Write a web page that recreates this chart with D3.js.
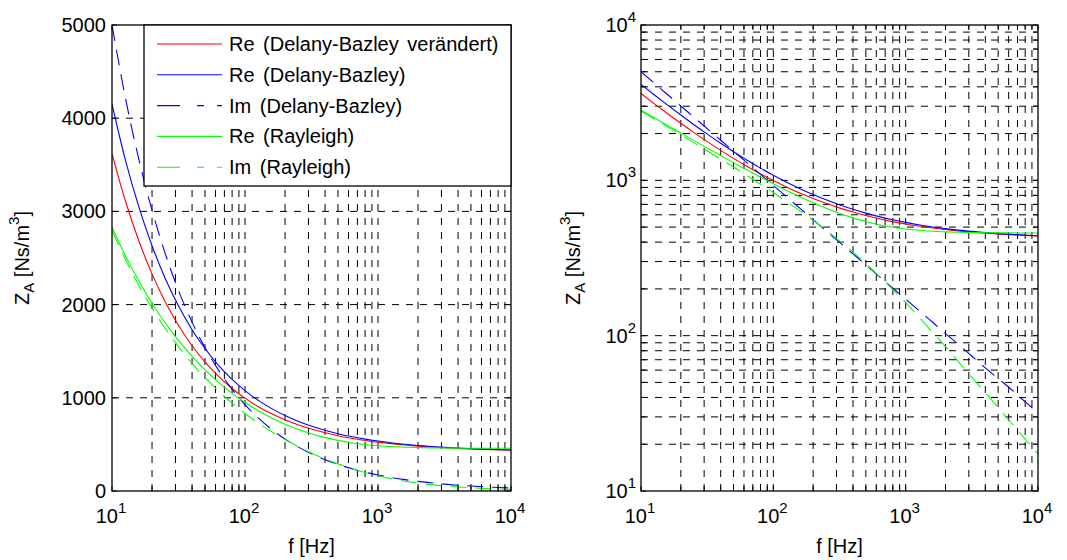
<!DOCTYPE html>
<html>
<head>
<meta charset="utf-8">
<script src="https://cdn.jsdelivr.net/npm/d3@7"></script>
<style>
  body { margin: 0; background: #fff; }
  text { font-family: Arial, "Liberation Sans", sans-serif; fill: #000; }
</style>
</head>
<body>
<div id="chart"></div>
<script>
const width = 1067;
const height = 560;

// frequencies (Hz) and impedance values (Ns/m^3)
const freq = [10, 12.5, 16, 20, 25, 31.5, 40, 50, 63, 80, 100, 125, 160, 200, 250, 315, 400, 500, 630, 800,
    1000, 1250, 1600, 2000, 2500, 3150, 4000, 5000, 6300, 8000, 10000];
const reDBmod = [3620, 3130, 2675, 2330, 2037, 1781, 1559, 1385, 1232, 1100, 996, 907, 825, 764, 711, 665, 625, 593, 566, 542,
    524, 508, 493, 482, 472, 464, 457, 451, 446, 442, 439];
const reDB = [4150, 3572, 3038, 2632, 2289, 1990, 1731, 1529, 1351, 1198, 1077, 975, 881, 810, 749, 697, 651, 615, 584, 557,
    536, 518, 501, 489, 478, 469, 461, 454, 449, 444, 440];
const imDB = [5000, 4246, 3544, 3011, 2557, 2158, 1812, 1539, 1300, 1091, 927, 787, 657, 558, 474, 400, 336, 285, 241, 202,
    172, 146, 122, 103, 88, 74, 62, 53, 45, 37.5, 32];
const reRay = [2831, 2536, 2247, 2015, 1808, 1618, 1444, 1300, 1168, 1048, 950, 864, 781, 717, 662, 614, 573, 543, 518, 499,
    486, 477, 470, 466, 463, 461, 460, 459, 459, 458, 458];
const imRay = [2794, 2495, 2200, 1962, 1749, 1552, 1369, 1217, 1075, 943, 832, 732, 633, 552, 478, 409, 345, 291, 242, 198,
    163, 133, 105, 85, 68, 54, 43, 34.4, 27.4, 21.6, 17.3];

const legendNames = ['Re (Delany-Bazley verändert)', 'Re (Delany-Bazley)', 'Im (Delany-Bazley)', 'Re (Rayleigh)', 'Im (Rayleigh)'];
const linearYTicks = [0, 1000, 2000, 3000, 4000, 5000];
const decades = [10, 100, 1000, 10000];

const series = [
    { name: legendNames[0], values: reDBmod, color: '#ff0000', dash: null },
    { name: legendNames[1], values: reDB, color: '#0000ff', dash: null },
    { name: legendNames[2], values: imDB, color: '#0000ff', dash: '16,9' },
    { name: legendNames[3], values: reRay, color: '#00ff00', dash: null },
    { name: legendNames[4], values: imRay, color: '#00ff00', dash: '16,9' }
];

const svg = d3.select('#chart')
    .append('svg')
    .attr('width', width)
    .attr('height', height);

const yTop = 25, yBottom = 491, tickLen = 5;
const gridDash = '7,7';

const panels = [
    { id: 'lin', left: 112, right: 511, y: d3.scaleLinear().domain([0, 5000]).range([yBottom, yTop]), logY: false, labelX: 29 },
    { id: 'log', left: 641, right: 1038, y: d3.scaleLog().domain([10, 10000]).range([yBottom, yTop]), logY: true, labelX: 580 }
];

function powerLabel(sel, exp) {
    sel.append('tspan').text('10');
    sel.append('tspan').attr('dy', -10).attr('font-size', 15).text(exp);
}

panels.forEach(p => {
    const x = d3.scaleLog().domain([10, 10000]).range([p.left, p.right]);
    const y = p.y;
    const g = svg.append('g');
    const xTicks = x.ticks();
    const yTicks = p.logY ? y.ticks() : linearYTicks;

    g.append('clipPath').attr('id', 'clip-' + p.id)
        .append('rect')
        .attr('x', p.left).attr('y', yTop)
        .attr('width', p.right - p.left).attr('height', yBottom - yTop);

    // grid
    g.selectAll('.vgrid')
        .data(xTicks.filter(t => t > 10 && t < 10000))
        .join('line')
        .attr('x1', d => x(d)).attr('x2', d => x(d))
        .attr('y1', yBottom).attr('y2', yTop)
        .attr('stroke', '#000').attr('stroke-width', 1)
        .attr('stroke-dasharray', gridDash);

    g.selectAll('.hgrid')
        .data(yTicks.filter(t => t > y.domain()[0] && t < y.domain()[1]))
        .join('line')
        .attr('x1', p.left).attr('x2', p.right)
        .attr('y1', d => y(d)).attr('y2', d => y(d))
        .attr('stroke', '#000').attr('stroke-width', 1)
        .attr('stroke-dasharray', gridDash);

    // data
    const line = d3.line()
        .x((d, i) => x(freq[i]))
        .y(d => y(d))
        .curve(d3.curveMonotoneX);

    g.append('g').attr('clip-path', `url(#clip-${p.id})`)
        .selectAll('path')
        .data(series)
        .join('path')
        .attr('d', d => line(d.values))
        .attr('fill', 'none')
        .attr('stroke', d => d.color)
        .attr('stroke-width', 1.1)
        .attr('stroke-dasharray', d => d.dash);

    // ticks on all four sides
    const tk = g.append('g').attr('stroke', '#000').attr('stroke-width', 1);
    xTicks.forEach(t => {
        tk.append('line').attr('x1', x(t)).attr('x2', x(t)).attr('y1', yBottom).attr('y2', yBottom - tickLen);
        tk.append('line').attr('x1', x(t)).attr('x2', x(t)).attr('y1', yTop).attr('y2', yTop + tickLen);
    });
    yTicks.forEach(t => {
        tk.append('line').attr('x1', p.left).attr('x2', p.left + tickLen).attr('y1', y(t)).attr('y2', y(t));
        tk.append('line').attr('x1', p.right).attr('x2', p.right - tickLen).attr('y1', y(t)).attr('y2', y(t));
    });

    // frame
    g.append('rect')
        .attr('x', p.left).attr('y', yTop)
        .attr('width', p.right - p.left).attr('height', yBottom - yTop)
        .attr('fill', 'none').attr('stroke', '#000').attr('stroke-width', 1.3);

    // x tick labels
    decades.forEach(t => {
        g.append('text')
            .attr('x', x(t) - 1).attr('y', 523)
            .attr('text-anchor', 'middle')
            .attr('font-size', 20)
            .call(powerLabel, Math.round(Math.log10(t)));
    });

    // y tick labels
    if (p.logY) {
        decades.forEach(t => {
            g.append('text')
                .attr('x', p.left - 5).attr('y', y(t) + 7)
                .attr('text-anchor', 'end')
                .attr('font-size', 20)
                .call(powerLabel, Math.round(Math.log10(t)));
        });
    } else {
        linearYTicks.forEach(t => {
            g.append('text')
                .attr('x', p.left - 6).attr('y', y(t) + 7)
                .attr('text-anchor', 'end')
                .attr('font-size', 20)
                .text(t);
        });
    }

    // axis labels
    g.append('text')
        .attr('x', (p.left + p.right) / 2).attr('y', 553)
        .attr('text-anchor', 'middle')
        .attr('font-size', 20)
        .text('f [Hz]');

    const yl = g.append('text')
        .attr('transform', `translate(${p.labelX},${(yTop + yBottom) / 2}) rotate(-90)`)
        .attr('text-anchor', 'middle')
        .attr('font-size', 20);
    yl.append('tspan').text('Z');
    yl.append('tspan').attr('dy', 5).attr('font-size', 15).text('A');
    yl.append('tspan').attr('dy', -5).text(' [Ns/m');
    yl.append('tspan').attr('dy', -10).attr('font-size', 15).text('3');
    yl.append('tspan').attr('dy', 10).text(']');
});

// legend on the left panel
const legend = svg.append('g');
legend.append('rect')
    .attr('x', 144).attr('y', yTop)
    .attr('width', 511 - 144).attr('height', 186 - yTop)
    .attr('fill', '#fff').attr('stroke', '#000').attr('stroke-width', 1.3);

const rows = legend.selectAll('g.row')
    .data(series)
    .join('g')
    .attr('transform', (d, i) => `translate(0,${44 + i * 30.8})`);

rows.append('line')
    .attr('x1', 157).attr('x2', 222)
    .attr('stroke', d => d.color)
    .attr('stroke-width', 1.1)
    .attr('stroke-dasharray', d => d.dash ? '23,17,7,13,6' : null);

rows.append('text')
    .attr('x', 229).attr('y', 7)
    .attr('font-size', 20)
    .attr('word-spacing', 3)
    .text(d => d.name);
</script>
</body>
</html>
